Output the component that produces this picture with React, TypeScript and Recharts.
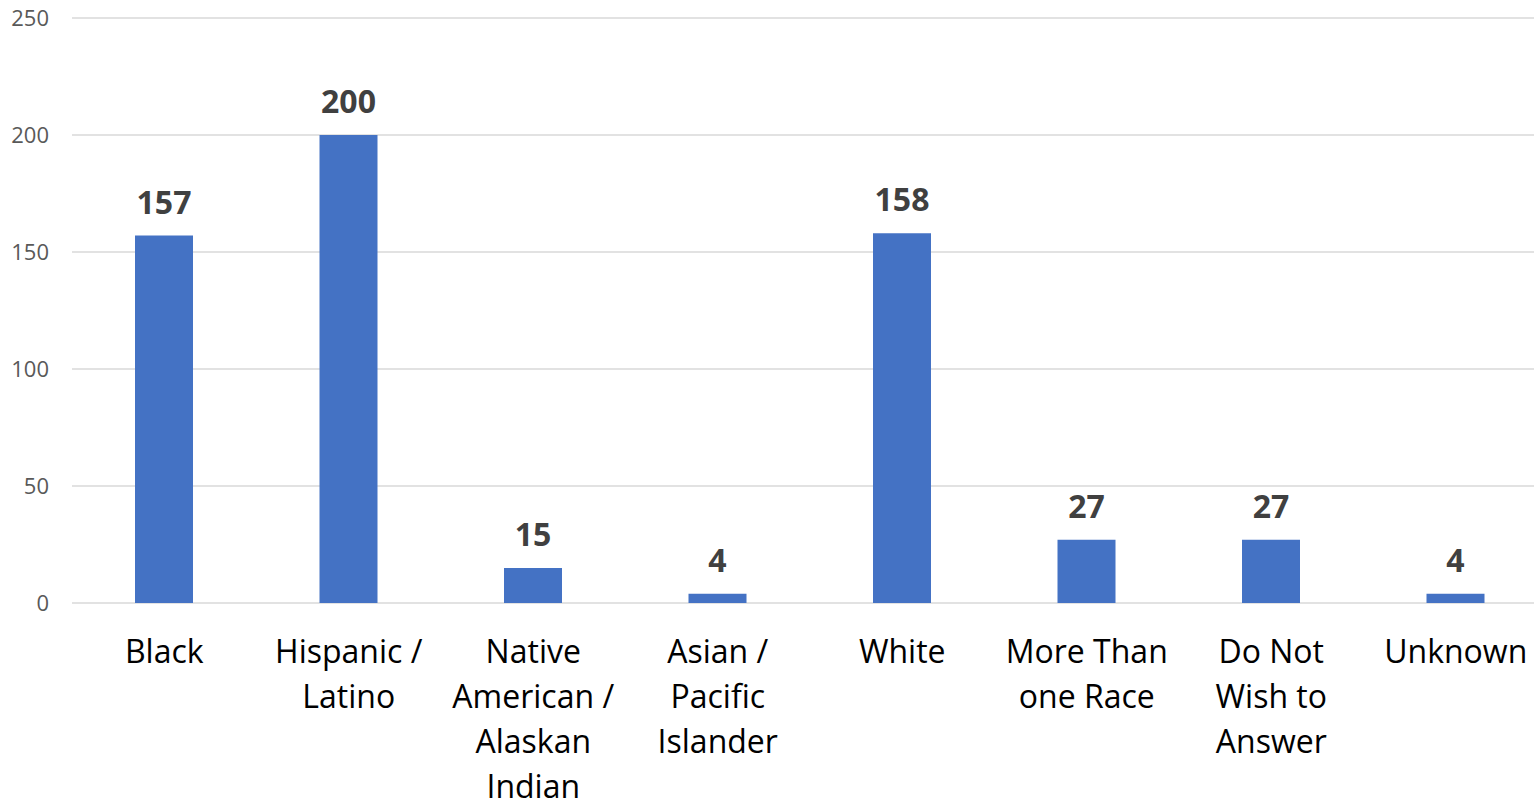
import { BarChart, Bar, XAxis, YAxis, CartesianGrid, LabelList } from 'recharts';

const CATEGORIES = [
  'Black',
  'Hispanic / Latino',
  'Native American / Alaskan Indian',
  'Asian / Pacific Islander',
  'White',
  'More Than one Race',
  'Do Not Wish to Answer',
  'Unknown',
];

// wrapped lines for each category label under the axis
const TICK_LINES = [
  ['Black'],
  ['Hispanic /', 'Latino'],
  ['Native', 'American /', 'Alaskan', 'Indian'],
  ['Asian /', 'Pacific', 'Islander'],
  ['White'],
  ['More Than', 'one Race'],
  ['Do Not', 'Wish to', 'Answer'],
  ['Unknown'],
];

const COUNTS = [157, 200, 15, 4, 158, 27, 27, 4];

const Y_TICKS = [0, 50, 100, 150, 200, 250];

const FONT = '"Open Sans", sans-serif';

const chartData = CATEGORIES.map((name, i) => ({ name, count: COUNTS[i] }));

function CategoryTick(props: any) {
  const { x, y, index } = props;
  const lines = TICK_LINES[index] || [props.payload.value];
  return (
    <text x={x} y={y} textAnchor="middle" fill="#000000" fontSize={32} fontFamily={FONT}>
      {lines.map((line: string, i: number) => (
        <tspan key={i} x={x} dy={i === 0 ? 60 : 45}>
          {line}
        </tspan>
      ))}
    </text>
  );
}

export default function App() {
  return (
    <div style={{ position: 'absolute', left: 0, top: 0, width: 1534, height: 803, overflow: 'hidden', background: '#fff' }}>
      <BarChart
        width={1548}
        height={803}
        data={chartData}
        margin={{ top: 18, right: 0, bottom: 0, left: 0 }}
      >
        <CartesianGrid vertical={false} stroke="#d9d9d9" strokeWidth={1.5} />
        <XAxis
          dataKey="name"
          axisLine={false}
          tickLine={false}
          tickSize={0}
          tickMargin={0}
          height={200}
          interval={0}
          tick={<CategoryTick />}
        />
        <YAxis
          domain={[0, 250]}
          ticks={Y_TICKS}
          axisLine={false}
          tickLine={false}
          tickSize={0}
          tickMargin={23}
          width={72}
          tick={{ fill: '#595959', fontSize: 22, fontFamily: FONT }}
        />
        <Bar dataKey="count" fill="#4472c4" barSize={58} isAnimationActive={false}>
          <LabelList
            dataKey="count"
            position="top"
            offset={22}
            fill="#404040"
            fontSize={32}
            fontWeight={700}
            fontFamily={FONT}
          />
        </Bar>
      </BarChart>
    </div>
  );
}
